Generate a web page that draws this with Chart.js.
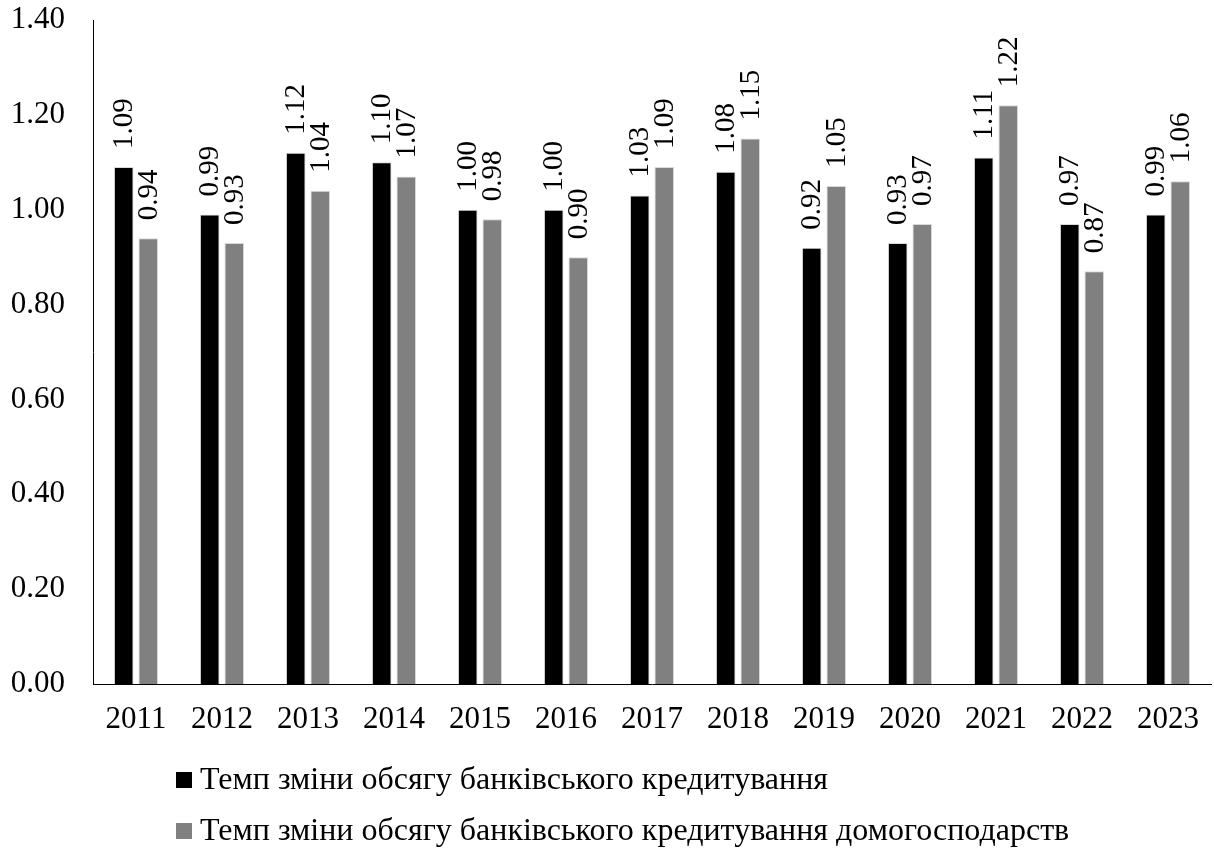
<!DOCTYPE html>
<html>
<head>
<meta charset="utf-8">
<script src="https://cdn.jsdelivr.net/npm/chart.js@4.4.1/dist/chart.umd.min.js"></script>
<style>
html,body{margin:0;padding:0;background:#fff;}
#wrap{width:1214px;height:850px;position:relative;}
</style>
</head>
<body>
<div id="wrap"><canvas id="c" width="1214" height="850"></canvas></div>
<script>
const years = ['2011','2012','2013','2014','2015','2016','2017','2018','2019','2020','2021','2022','2023'];
const totalCredit = [1.09,0.99,1.12,1.10,1.00,1.00,1.03,1.08,0.92,0.93,1.11,0.97,0.99];
const householdCredit = [0.94,0.93,1.04,1.07,0.98,0.90,1.09,1.15,1.05,0.97,1.22,0.87,1.06];
const seriesNames = ['Темп зміни обсягу банківського кредитування','Темп зміни обсягу банківського кредитування домогосподарств'];
const seriesColors = ['#000000','#808080'];

const FONT = "'Liberation Serif','Times New Roman',serif";

const valueLabels = {
  id:'valueLabels',
  afterDatasetsDraw(chart){
    const ctx = chart.ctx;
    ctx.save();
    ctx.fillStyle = '#000';
    ctx.font = '29px ' + FONT;
    ctx.textAlign = 'left';
    ctx.textBaseline = 'middle';
    chart.data.datasets.forEach((ds, di) => {
      const meta = chart.getDatasetMeta(di);
      meta.data.forEach((bar, i) => {
        ctx.save();
        ctx.translate(bar.x + 1, bar.y - 18);
        ctx.rotate(-Math.PI/2);
        ctx.fillText(ds.data[i].toFixed(2), 0, 0);
        ctx.restore();
      });
    });
    ctx.restore();
  }
};

const customLegend = {
  id:'customLegend',
  afterDraw(chart){
    const ctx = chart.ctx;
    ctx.save();
    ctx.font = '32px ' + FONT;
    ctx.textBaseline = 'middle';
    ctx.textAlign = 'left';
    const box = 16, gap = 8;
    const x0 = 176;
    const rows = [780, 831];
    chart.data.datasets.forEach((d, i) => {
      const y = rows[i];
      ctx.fillStyle = d.backgroundColor;
      ctx.fillRect(x0, y - box/2, box, box);
      ctx.fillStyle = '#000';
      ctx.fillText(d.label, x0 + box + gap, y + 1);
    });
    ctx.restore();
  }
};

new Chart(document.getElementById('c'), {
  type:'bar',
  data:{
    labels: years,
    datasets:[
      {label: seriesNames[0], data: totalCredit, backgroundColor: seriesColors[0], borderColor:'#d9d9d9', borderWidth:1},
      {label: seriesNames[1], data: householdCredit, backgroundColor: seriesColors[1], borderColor:'#d9d9d9', borderWidth:1}
    ]
  },
  options:{
    responsive:false,
    animation:false,
    devicePixelRatio:1,
    categoryPercentage:0.57,
    barPercentage:0.8,
    layout:{padding:{top:20,right:3,bottom:110,left:0}},
    plugins:{legend:{display:false},tooltip:{enabled:false}},
    scales:{
      x:{
        grid:{display:false,drawTicks:false},
        border:{display:true,color:'#000',width:1},
        ticks:{color:'#000',font:{family:FONT,size:31},padding:17,maxRotation:0,autoSkip:false},
        afterFit(s){ s.height = 56; s.paddingLeft = 0; s.paddingRight = 0; }
      },
      y:{
        min:0,max:1.4,
        grid:{display:false,drawTicks:false},
        border:{display:true,color:'#000',width:1},
        ticks:{stepSize:0.2,color:'#000',font:{family:FONT,size:31},padding:28,
          callback:v=>Number(v).toFixed(2)},
        afterFit(s){ s.width = 93; s.paddingTop = 0; s.paddingBottom = 0; }
      }
    }
  },
  plugins:[valueLabels, customLegend]
});
</script>
</body>
</html>
